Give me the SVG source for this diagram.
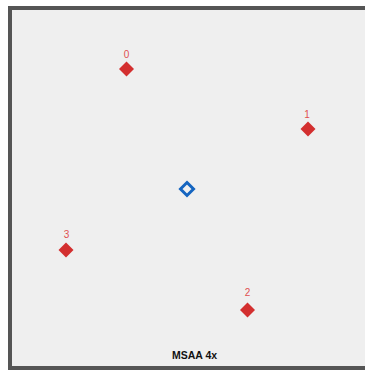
<svg xmlns="http://www.w3.org/2000/svg" width="365" height="370" viewBox="0 0 365 370">
<style>
.pt{fill:#d32f2f}
.lbl{font-family:"Liberation Sans",Arial,sans-serif;font-size:10px;fill:#e05050;text-anchor:middle}
.title{font-family:"Liberation Sans",Arial,sans-serif;font-size:10.5px;font-weight:bold;fill:#111;text-anchor:middle}
</style>
<rect x="10" y="8" width="355" height="360" fill="#efefef"/>
<path d="M365 8 H10 V368 H365" fill="none" stroke="#555" stroke-width="4"/>
<g id="connectors"></g>
<g id="p0"><path class="pt" d="M126.5 61.5 L134 69 L126.5 76.5 L119 69 Z"/><text class="lbl" x="126.5" y="58">0</text></g>
<g id="p1"><path class="pt" d="M308 121.5 L315.5 129 L308 136.5 L300.5 129 Z"/><text class="lbl" x="307" y="118">1</text></g>
<g id="p2"><path class="pt" d="M247.5 302.5 L255 310 L247.5 317.5 L240 310 Z"/><text class="lbl" x="247.5" y="296">2</text></g>
<g id="p3"><path class="pt" d="M66 242.5 L73.5 250 L66 257.5 L58.5 250 Z"/><text class="lbl" x="66.5" y="238">3</text></g>
<g id="center"><path d="M187 182.5 L193.5 189 L187 195.5 L180.5 189 Z" fill="none" stroke="#1565c0" stroke-width="3"/></g>
<text class="title" x="194.5" y="359">MSAA 4x</text>
</svg>
